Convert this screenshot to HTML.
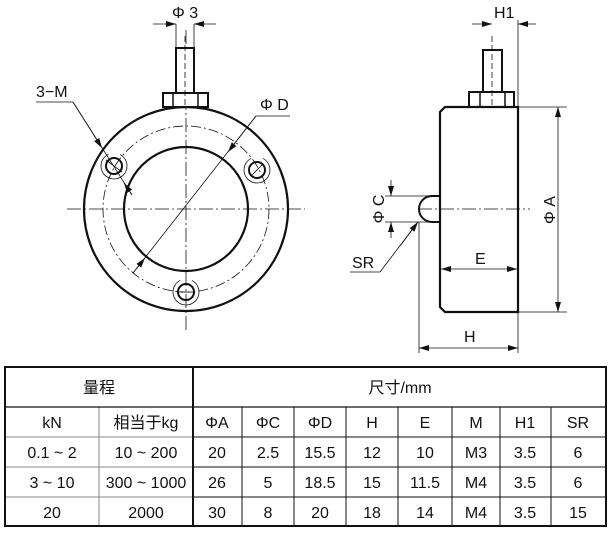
<!DOCTYPE html>
<html><head><meta charset="utf-8"><style>
html,body{margin:0;padding:0;background:#fff;}
svg{display:block;}
text{font-family:"Liberation Sans","Noto Sans CJK SC",sans-serif;font-size:16px;fill:#111;}
</style></head><body>
<svg width="612" height="533" viewBox="0 0 612 533" xmlns="http://www.w3.org/2000/svg">
<defs>
<marker id="a" viewBox="0 0 10 6" refX="10" refY="3" markerWidth="10" markerHeight="6" orient="auto-start-reverse" markerUnits="userSpaceOnUse"><path d="M0,0 L10,3 L0,6z" fill="#111"/></marker>
</defs>
<g stroke="#111" fill="none">
<line x1="67" y1="209" x2="305" y2="209" stroke-width="0.8" stroke-dasharray="14,3,2,3"/>
<line x1="186" y1="30" x2="186" y2="330" stroke-width="0.8" stroke-dasharray="14,3,2,3"/>
<circle cx="186" cy="209" r="102" stroke-width="2.2" fill="none"/>
<circle cx="186" cy="209" r="62" stroke-width="2.2"/>
<circle cx="186" cy="209" r="83" stroke-width="0.8" stroke-dasharray="10,3,2,3"/>
<circle cx="114" cy="166" r="8" stroke-width="2"/>
<circle cx="114" cy="166" r="13" stroke-width="0.8" stroke-dasharray="55,12"/>
<circle cx="257" cy="170" r="8" stroke-width="2"/>
<circle cx="257" cy="170" r="13" stroke-width="0.8" stroke-dasharray="55,12"/>
<circle cx="186" cy="292" r="8" stroke-width="2"/>
<circle cx="186" cy="292" r="13" stroke-width="0.8" stroke-dasharray="55,12"/>
<line x1="106" y1="160" x2="122" y2="172" stroke-width="0.8"/>
<line x1="251" y1="176" x2="263" y2="164" stroke-width="0.8"/>
<line x1="178" y1="292" x2="194" y2="292" stroke-width="0.8"/>
<rect x="176" y="48" width="18" height="45" stroke-width="2" fill="#fff"/>
<rect x="163" y="93" width="45" height="14" stroke-width="2" fill="#fff"/>
<line x1="173" y1="93" x2="173" y2="107" stroke-width="1.5"/>
<line x1="198" y1="93" x2="198" y2="107" stroke-width="1.5"/>
<line x1="185" y1="36" x2="185" y2="107" stroke-width="0.8" stroke-dasharray="6,3"/>
<line x1="176" y1="24" x2="176" y2="48" stroke-width="0.8"/>
<line x1="194" y1="24" x2="194" y2="48" stroke-width="0.8"/>
<line x1="153" y1="24" x2="176" y2="24" stroke-width="0.8" marker-end="url(#a)"/>
<line x1="216" y1="24" x2="194" y2="24" stroke-width="0.8" marker-end="url(#a)"/>
<polyline points="36,102 73,102 132,195" stroke-width="0.8"/>
<line x1="73" y1="102" x2="102" y2="148" stroke-width="0.8" marker-end="url(#a)"/>
<line x1="132" y1="195" x2="124" y2="183" stroke-width="0.8" marker-end="url(#a)"/>
<polyline points="290,116 256,116 133,273" stroke-width="0.8"/>
<line x1="256" y1="116" x2="228" y2="152" stroke-width="0.8" marker-end="url(#a)"/>
<line x1="133" y1="273" x2="145" y2="258" stroke-width="0.8" marker-end="url(#a)"/>
<path d="M445,107 L518,107 L518,312 L445,312 L440,307 L440,112 Z" stroke-width="2.2"/>
<rect x="483" y="50" width="19" height="42" stroke-width="2"/>
<rect x="469" y="92" width="45" height="15" stroke-width="2"/>
<line x1="480" y1="92" x2="480" y2="107" stroke-width="1.5"/>
<line x1="505" y1="92" x2="505" y2="107" stroke-width="1.5"/>
<line x1="492" y1="36" x2="492" y2="107" stroke-width="0.8" stroke-dasharray="6,3"/>
<path d="M440,196 L432,196 A13,13 0 0 0 432,222 L440,222" stroke-width="2"/>
<line x1="418" y1="209" x2="530" y2="209" stroke-width="0.8" stroke-dasharray="14,3,2,3"/>
<line x1="518" y1="20" x2="518" y2="107" stroke-width="0.8"/>
<line x1="472" y1="24" x2="492" y2="24" stroke-width="0.8" marker-end="url(#a)"/>
<line x1="536" y1="24" x2="518" y2="24" stroke-width="0.8" marker-end="url(#a)"/>
<line x1="518" y1="107" x2="567" y2="107" stroke-width="0.8"/>
<line x1="518" y1="312" x2="567" y2="312" stroke-width="0.8"/>
<line x1="558" y1="210" x2="558" y2="107" stroke-width="0.8" marker-end="url(#a)"/>
<line x1="558" y1="210" x2="558" y2="312" stroke-width="0.8" marker-end="url(#a)"/>
<line x1="385" y1="196" x2="440" y2="196" stroke-width="0.8"/>
<line x1="385" y1="222" x2="440" y2="222" stroke-width="0.8"/>
<line x1="391" y1="180" x2="391" y2="196" stroke-width="0.8" marker-end="url(#a)"/>
<line x1="391" y1="238" x2="391" y2="222" stroke-width="0.8" marker-end="url(#a)"/>
<polyline points="350,272 380,272 418,222" stroke-width="0.8"/>
<line x1="400" y1="246" x2="418" y2="222" stroke-width="0.8" marker-end="url(#a)"/>
<line x1="478" y1="269" x2="441" y2="269" stroke-width="0.8" marker-end="url(#a)"/>
<line x1="478" y1="269" x2="517" y2="269" stroke-width="0.8" marker-end="url(#a)"/>
<line x1="419" y1="222" x2="419" y2="353" stroke-width="0.8"/>
<line x1="518" y1="312" x2="518" y2="353" stroke-width="0.8"/>
<line x1="468" y1="348" x2="419" y2="348" stroke-width="0.8" marker-end="url(#a)"/>
<line x1="468" y1="348" x2="518" y2="348" stroke-width="0.8" marker-end="url(#a)"/>
</g>
<text x="172" y="18">Φ 3</text>
<text x="36" y="97">3−M</text>
<text x="260" y="110">Φ D</text>
<text x="494" y="18">H1</text>
<text x="475" y="264">E</text>
<text x="464" y="342">H</text>
<text x="352" y="268">SR</text>
<text transform="translate(555,210) rotate(-90)" text-anchor="middle">Φ A</text>
<text transform="translate(384,209) rotate(-90)" text-anchor="middle">Φ C</text>
<g stroke-width="1">
<g stroke="#888">
<line x1="99" y1="407" x2="99" y2="526"/>
<line x1="5" y1="437" x2="193" y2="437"/>
<line x1="5" y1="467" x2="193" y2="467"/>
<line x1="5" y1="497" x2="193" y2="497"/>
</g>
<g stroke="#111">
<line x1="193" y1="437" x2="606" y2="437"/>
<line x1="193" y1="467" x2="606" y2="467"/>
<line x1="193" y1="497" x2="606" y2="497"/>
<line x1="242" y1="407" x2="242" y2="526"/>
<line x1="294" y1="407" x2="294" y2="526"/>
<line x1="346" y1="407" x2="346" y2="526"/>
<line x1="398" y1="407" x2="398" y2="526"/>
<line x1="452" y1="407" x2="452" y2="526"/>
<line x1="500" y1="407" x2="500" y2="526"/>
<line x1="551" y1="407" x2="551" y2="526"/>
<line x1="5" y1="407" x2="606" y2="407" stroke-width="1.3"/>
<line x1="193" y1="367" x2="193" y2="526" stroke-width="2"/>
<rect x="5" y="367" width="601" height="159" fill="none" stroke-width="2"/>
</g>
</g>
<g text-anchor="middle">
<text x="99" y="393">量程</text>
<text x="400" y="393">尺寸/mm</text>
<text x="52" y="428">kN</text><text x="146" y="428">相当于kg</text>
<text x="217" y="428">ΦA</text><text x="268" y="428">ΦC</text><text x="320" y="428">ΦD</text><text x="372" y="428">H</text><text x="425" y="428">E</text><text x="476" y="428">M</text><text x="525" y="428">H1</text><text x="578" y="428">SR</text>
<text x="52" y="458">0.1 ~ 2</text><text x="146" y="458">10 ~ 200</text>
<text x="217" y="458">20</text><text x="268" y="458">2.5</text><text x="320" y="458">15.5</text><text x="372" y="458">12</text><text x="425" y="458">10</text><text x="476" y="458">M3</text><text x="525" y="458">3.5</text><text x="578" y="458">6</text>
<text x="52" y="488">3 ~ 10</text><text x="146" y="488">300 ~ 1000</text>
<text x="217" y="488">26</text><text x="268" y="488">5</text><text x="320" y="488">18.5</text><text x="372" y="488">15</text><text x="425" y="488">11.5</text><text x="476" y="488">M4</text><text x="525" y="488">3.5</text><text x="578" y="488">6</text>
<text x="52" y="518">20</text><text x="146" y="518">2000</text>
<text x="217" y="518">30</text><text x="268" y="518">8</text><text x="320" y="518">20</text><text x="372" y="518">18</text><text x="425" y="518">14</text><text x="476" y="518">M4</text><text x="525" y="518">3.5</text><text x="578" y="518">15</text>
</g>
</svg>
</body></html>
